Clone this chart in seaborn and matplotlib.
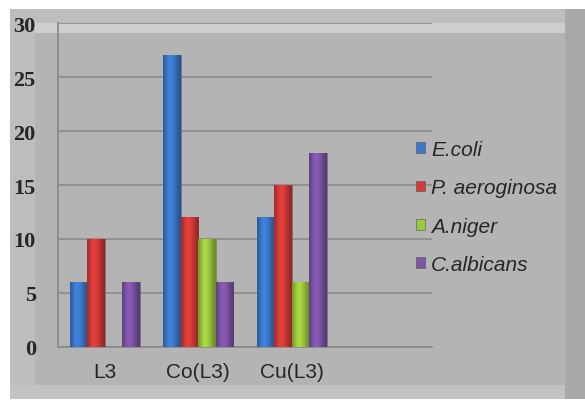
import matplotlib
matplotlib.use("Agg")
import matplotlib.pyplot as plt
import matplotlib.patches as mpatches
import matplotlib.colors as mcolors
import seaborn as sns
import pandas as pd
import numpy as np

# data
categories = ["L3", "Co(L3)", "Cu(L3)"]
organisms = ["E.coli", "P. aeroginosa", "A.niger", "C.albicans"]
ecoli = [6, 27, 12]
paeroginosa = [10, 12, 15]
aniger = [0, 10, 6]
calbicans = [6, 6, 18]
yticks = [0, 5, 10, 15, 20, 25, 30]

colors = ["#3b78c9", "#d23a37", "#9bc83c", "#7d54a6"]

rows = []
for org, vals in zip(organisms, [ecoli, paeroginosa, aniger, calbicans]):
    for cat, v in zip(categories, vals):
        rows.append({"Compound": cat, "Organism": org, "Value": v})
df = pd.DataFrame(rows)

sns.set_theme(style="white")
fig = plt.figure(figsize=(5.85, 4.02), dpi=100)
fig.patch.set_facecolor("white")

W, H = 585, 402
def frect(x0, y0, x1, y1, color):
    # rectangle in pixel coords (y from top), kept behind the axes
    fig.patches.append(mpatches.Rectangle((x0 / W, 1 - y1 / H), (x1 - x0) / W, (y1 - y0) / H,
                                          transform=fig.transFigure, facecolor=color,
                                          edgecolor="none", zorder=-10))

# beveled grey frame
frect(10, 10, 585, 400, "#b4b4b4")
frect(10, 10, 585, 24, "#bebebe")
frect(35, 24, 565, 34, "#cfcfcf")
frect(10, 10, 35, 400, "#bdbdbd")
frect(10, 386, 585, 400, "#c3c3c3")
frect(565, 10, 585, 400, "#a9a9a9")
frect(35, 34, 565, 386, "#b4b4b4")

ax = fig.add_axes([58 / W, 1 - 348 / H, (432 - 58) / W, (348 - 24) / H])
ax.set_facecolor("none")

sns.barplot(data=df, x="Compound", y="Value", hue="Organism", palette=colors,
            width=0.75, saturation=1, edgecolor="#666666", linewidth=0.4, ax=ax, zorder=3)

ax.set_xlim(-0.5, 3.5)
ax.set_ylim(0, 30)

# cylinder-like shading on each bar, clipped to the bar itself
shade = np.array([0.78, 0.95, 1.08, 1.1, 1.02, 0.92, 0.8, 0.7])
for bar in list(ax.patches):
    h = bar.get_height()
    if not h or np.isnan(h):
        continue
    rgb = np.array(mcolors.to_rgb(bar.get_facecolor()))
    img = np.clip(shade[:, None] * rgb[None, :], 0, 1)[None, :, :]
    x0 = bar.get_x()
    im = ax.imshow(img, extent=[x0, x0 + bar.get_width(), 0, h], aspect="auto",
                   interpolation="bicubic", zorder=3.5)
    im.set_clip_path(bar)
ax.set_xlim(-0.5, 3.5)
ax.set_ylim(0, 30)

ax.set_yticks(yticks)
ax.set_yticklabels([str(t) for t in yticks], fontfamily="Liberation Serif",
                   fontweight="bold", fontsize=16)
ax.set_xticks(range(len(categories)))
ax.set_xticklabels(categories, fontfamily="Liberation Sans", fontsize=15)
ax.tick_params(axis="y", length=0, pad=16)
ax.tick_params(axis="x", length=0, pad=11)
ax.set_xticks([-0.5, 0.5, 1.5, 2.5, 3.5], minor=True)
ax.tick_params(axis="x", which="minor", length=4, color="#8a8a8a", width=1)
ax.set_xlabel("")
ax.set_ylabel("")

ax.yaxis.grid(True, color="#8a8a8a", linewidth=1.2, zorder=0)
ax.set_axisbelow(True)
for s in ["top", "right"]:
    ax.spines[s].set_visible(False)
ax.spines["left"].set_color("#8a8a8a")
ax.spines["bottom"].set_color("#8a8a8a")

handles = [mpatches.Patch(facecolor=c, edgecolor="#555555", linewidth=0.4) for c in colors]
ax.legend(handles, organisms, loc="center left", bbox_to_anchor=(397 / W, 1 - 208 / H),
          bbox_transform=fig.transFigure, frameon=False,
          prop={"family": "Liberation Sans", "style": "italic", "size": 15},
          handlelength=0.43, handleheight=0.43, handletextpad=0.3, labelspacing=0.92)

fig.savefig("out.png", dpi=100, facecolor=fig.get_facecolor())
